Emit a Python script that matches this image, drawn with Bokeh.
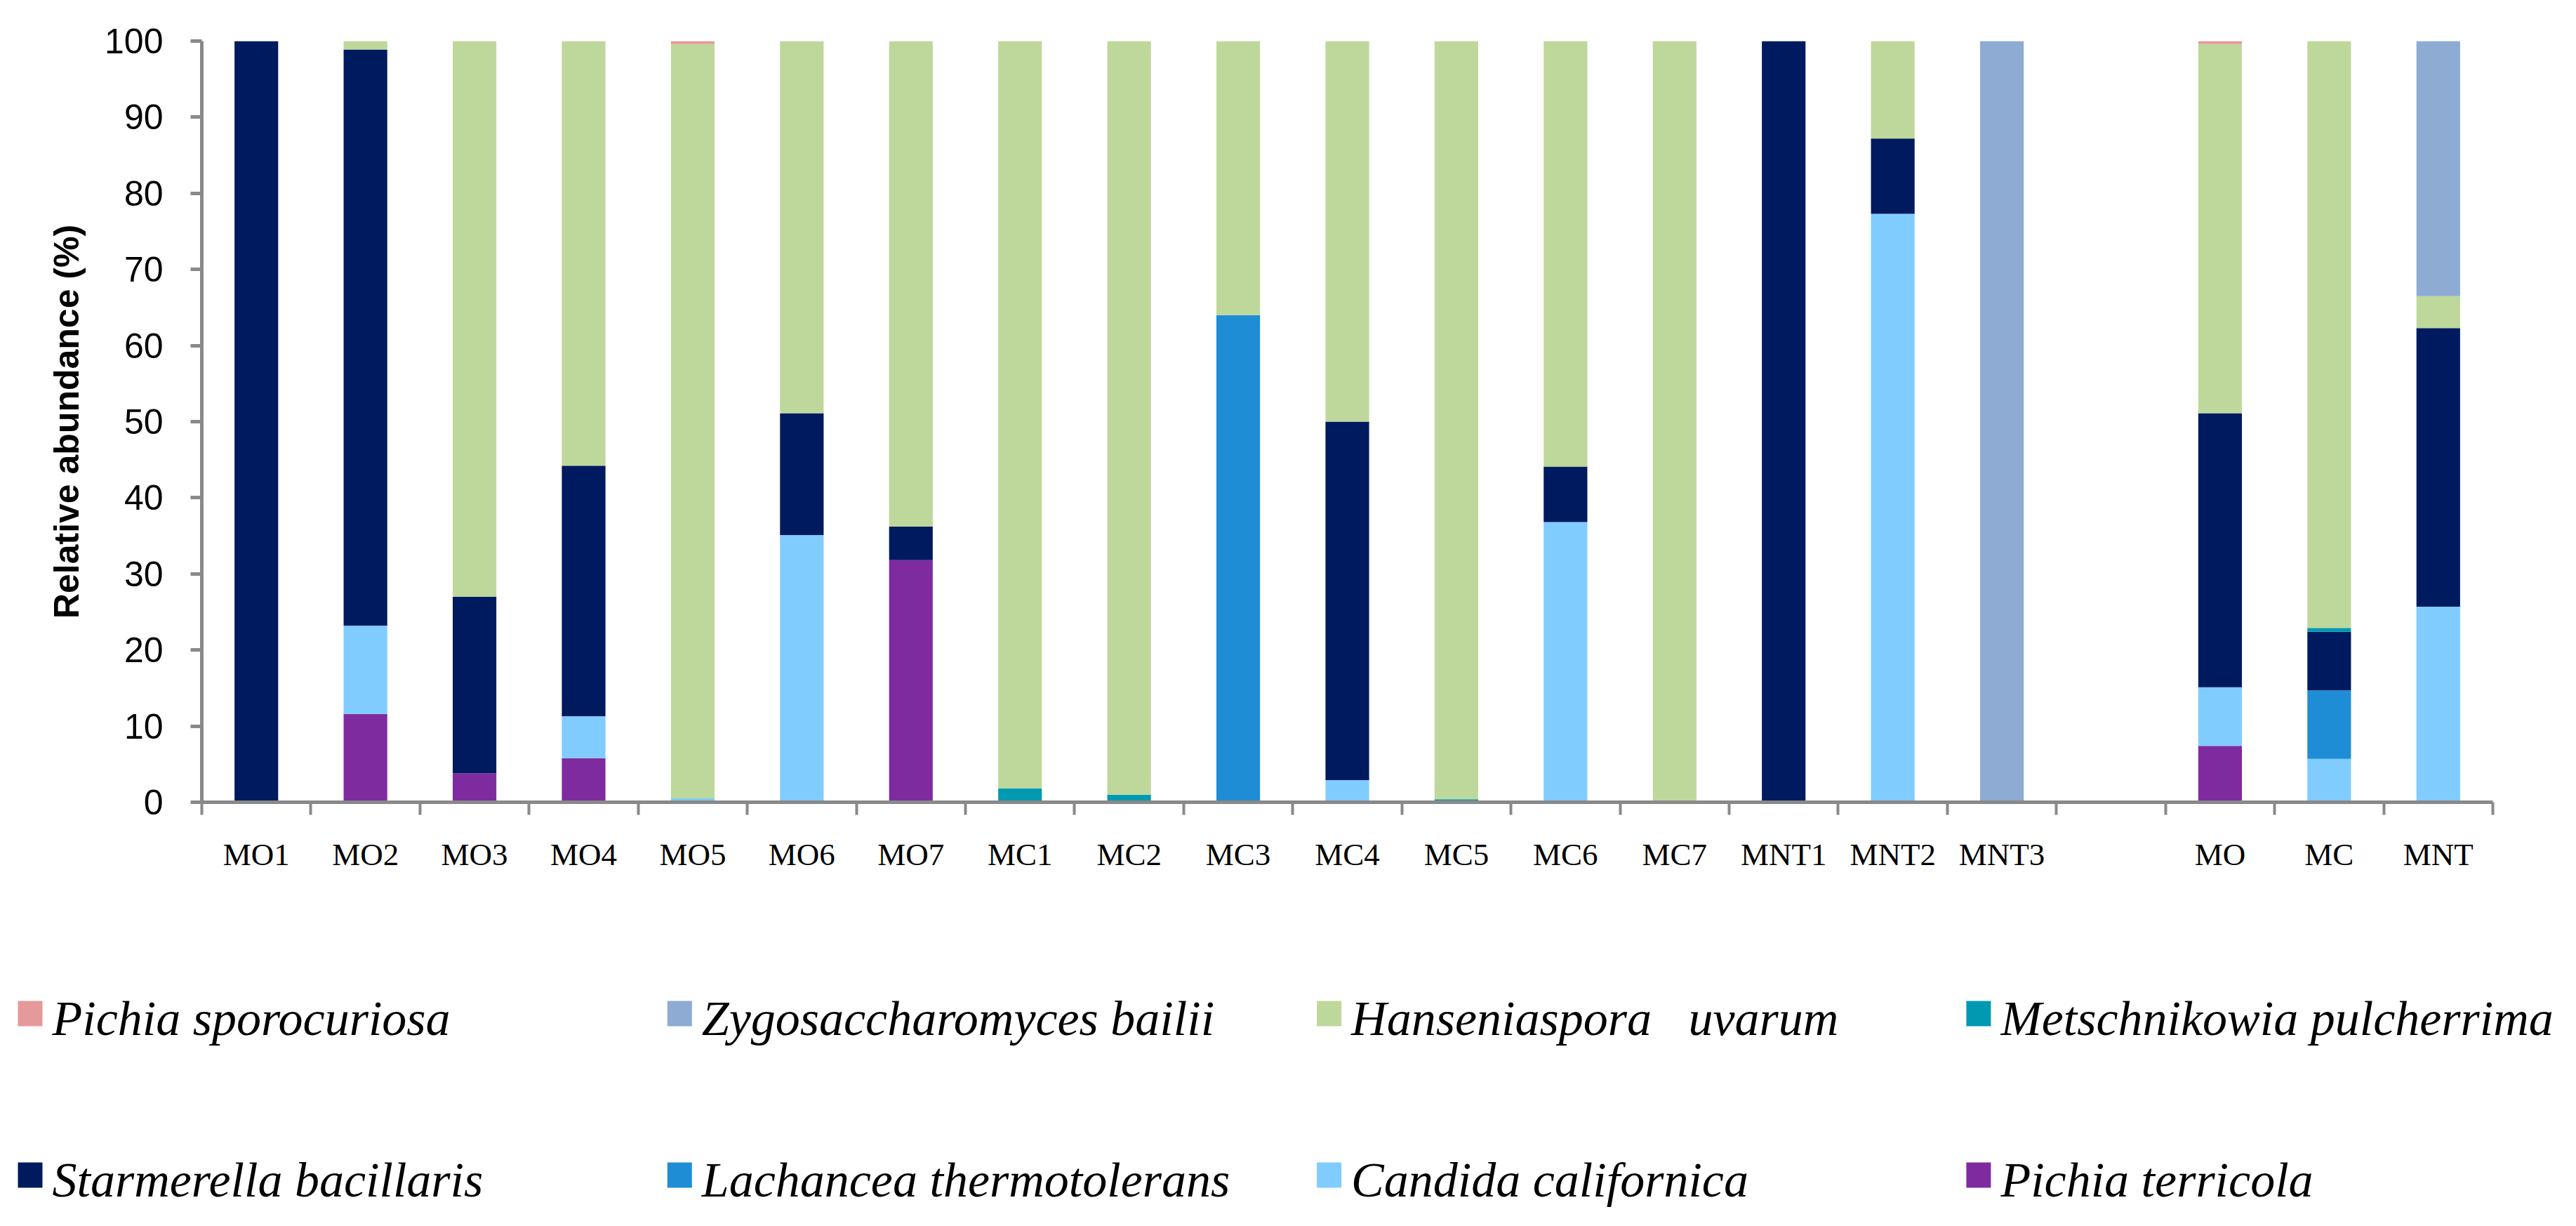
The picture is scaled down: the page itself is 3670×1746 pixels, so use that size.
from bokeh.plotting import figure
from bokeh.models import Range1d, FixedTicker, ColumnDataSource
from bokeh.core.properties import value
from bokeh.embed import file_html
from bokeh.resources import INLINE

categories = ["MO1", "MO2", "MO3", "MO4", "MO5", "MO6", "MO7",
              "MC1", "MC2", "MC3", "MC4", "MC5", "MC6", "MC7",
              "MNT1", "MNT2", "MNT3", "", "MO", "MC", "MNT"]

pichia_terricola =     [0, 11.6, 3.8, 5.8, 0, 0, 31.8, 0, 0, 0, 0, 0, 0, 0, 0, 0, 0, 0, 7.4, 0, 0]
candida_californica =  [0, 11.6, 0, 5.5, 0.5, 35.1, 0, 0, 0, 0, 2.9, 0, 36.8, 0, 0, 77.3, 0, 0, 7.7, 5.7, 25.7]
lachancea =            [0, 0, 0, 0, 0, 0, 0, 0, 0, 64.0, 0, 0, 0, 0, 0, 0, 0, 0, 0, 9.0, 0]
starmerella =          [100, 75.7, 23.2, 32.9, 0, 16.0, 4.4, 0, 0, 0, 47.1, 0, 7.3, 0, 100, 9.9, 0, 0, 36.0, 7.7, 36.6]
metschnikowia =        [0, 0, 0, 0, 0, 0, 0, 1.8, 1.0, 0, 0, 0.4, 0, 0, 0, 0, 0, 0, 0, 0.5, 0]
hanseniaspora =        [0, 1.1, 73.0, 55.8, 99.1, 48.9, 63.8, 98.2, 99.0, 36.0, 50.0, 99.6, 55.9, 100, 0, 12.8, 0, 0, 48.5, 77.1, 4.2]
zygosaccharomyces =    [0, 0, 0, 0, 0, 0, 0, 0, 0, 0, 0, 0, 0, 0, 0, 0, 100, 0, 0, 0, 33.5]
pichia_sporocuriosa =  [0, 0, 0, 0, 0.4, 0, 0, 0, 0, 0, 0, 0, 0, 0, 0, 0, 0, 0, 0.4, 0, 0]

species = ["Pichia terricola", "Candida californica", "Lachancea thermotolerans",
           "Starmerella bacillaris", "Metschnikowia pulcherrima",
           "Hanseniaspora\u00a0\u00a0 uvarum",
           "Zygosaccharomyces bailii", "Pichia sporocuriosa"]
series = [pichia_terricola, candida_californica, lachancea, starmerella,
          metschnikowia, hanseniaspora, zygosaccharomyces, pichia_sporocuriosa]
colors = ["#7F2BA0", "#80CCFF", "#1F8DD6", "#001A5F",
          "#0099B2", "#BED89B", "#8EABD3", "#E6999A"]
legend_order = [7, 6, 5, 4, 3, 2, 1, 0]

keys = ["s%d" % i for i in range(len(series))]
data = {"x": [i + 0.5 for i in range(len(categories))]}
for k, s in zip(keys, series):
    data[k] = s
source = ColumnDataSource(data)

W = 3654
H_CHART = 1406
H_LEG = 1730 - H_CHART

p = figure(width=W, height=H_CHART, x_range=Range1d(0, len(categories)),
           y_range=Range1d(0, 100), output_backend="svg", toolbar_location=None,
           min_border_left=287, min_border_right=103, min_border_top=58,
           min_border_bottom=H_CHART - 1142)
p.grid.visible = False
p.outline_line_color = None

p.vbar_stack(keys, x="x", width=0.4, fill_color=colors, line_color=None, source=source)

axis_col = "#898989"
xa = p.xaxis[0]
xa.ticker = FixedTicker(ticks=[i + 0.5 for i in range(len(categories))],
                        minor_ticks=list(range(len(categories) + 1)))
xa.major_label_overrides = {i + 0.5: c for i, c in enumerate(categories)}
xa.major_tick_out = 0
xa.major_tick_in = 0
xa.minor_tick_out = 18
xa.minor_tick_in = 0
xa.minor_tick_line_color = axis_col
xa.minor_tick_line_width = 4
xa.axis_line_color = axis_col
xa.axis_line_width = 5
xa.major_label_text_font = "Liberation Serif"
xa.major_label_text_font_size = "45px"
xa.major_label_text_color = "black"
xa.major_label_standoff = 31

ya = p.yaxis[0]
ya.ticker = FixedTicker(ticks=list(range(0, 101, 10)), minor_ticks=[])
ya.major_tick_out = 16
ya.major_tick_in = 0
ya.major_tick_line_color = axis_col
ya.major_tick_line_width = 5
ya.axis_line_color = axis_col
ya.axis_line_width = 5
ya.major_label_text_font = "Liberation Sans"
ya.major_label_text_font_size = "50px"
ya.major_label_text_color = "black"
ya.major_label_standoff = 39
ya.axis_label = "Relative abundance (%)"
ya.axis_label_text_font = "Liberation Sans"
ya.axis_label_text_font_style = "bold"
ya.axis_label_text_font_size = "50px"
ya.axis_label_text_color = "black"
ya.axis_label_standoff = 23

# legend panel, drawn in page-pixel coordinates
top_page = 8 + H_CHART
p2 = figure(width=W, height=H_LEG, x_range=Range1d(8, 8 + W),
            y_range=Range1d(top_page + H_LEG, top_page),
            output_backend="svg", toolbar_location=None,
            x_axis_type=None, y_axis_type=None, min_border=0)
p2.grid.visible = False
p2.outline_line_color = None

col_pitch = 925.3
row_pitch = 230
sw_x, sw_y, tx_x, tx_y = [], [], [], []
for k, _ in enumerate(legend_order):
    c, r = k % 4, k // 4
    left = 33 + c * col_pitch
    sw_x.append(left + 17.5)
    sw_y.append(1451 + r * row_pitch)
    tx_x.append(left + 49)
    tx_y.append(1458 + r * row_pitch)

leg_src = ColumnDataSource(dict(
    sx=sw_x, sy=sw_y, tx=tx_x, ty=tx_y,
    label=[species[i] for i in legend_order],
    color=[colors[i] for i in legend_order]))
p2.rect(x="sx", y="sy", width=35, height=36, fill_color="color", line_color=None,
        source=leg_src)
p2.text(x="tx", y="ty", text="label", source=leg_src,
        text_font=value("Liberation Serif"), text_font_style="italic",
        text_font_size="70px", text_color="black", text_baseline="alphabetic",
        text_align="left")

open("out.html", "w").write(file_html([p, p2], INLINE))
